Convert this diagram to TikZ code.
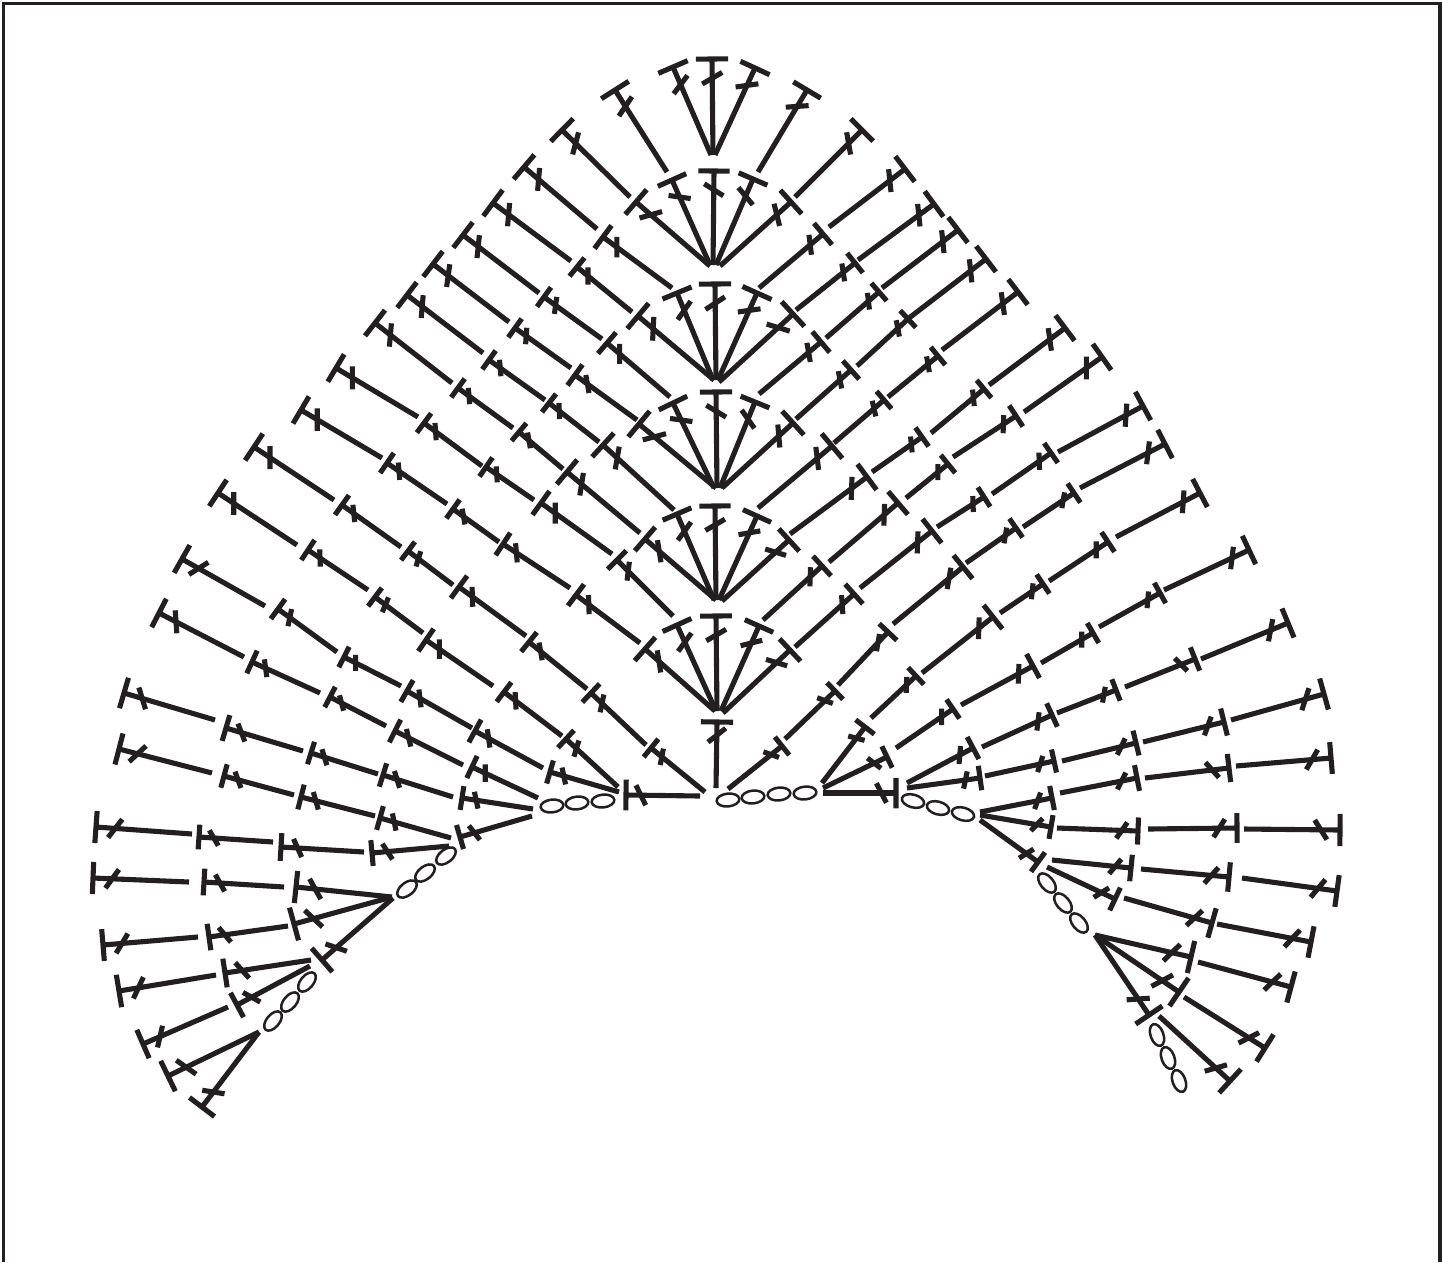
\documentclass[tikz,border=0pt]{standalone}
\usepackage{xcolor}
\usepackage{tikz}
\usetikzlibrary{calc}
\definecolor{YarnBlack}{HTML}{231F20}
\tikzset{
  yarn/.style={draw=YarnBlack, line width=5.1pt},
  chainloop/.style={draw=YarnBlack, line width=2.5pt},
  frameline/.style={draw=YarnBlack, line width=3.2pt}
}
% [size of bar and tick], top x, top y, end x, end y, tick angle
\newcommand{\stitch}[6][1]{
  \draw[yarn] (#2,#3) -- (#4,#5);
  \draw[yarn] let \p1=($(#4,#5)-(#2,#3)$), \n1={#1*max(0.167*veclen(\x1,\y1),11.5pt)},
      \n2={#1*max(0.12*veclen(\x1,\y1),8pt)}, \n3={max(0.2*veclen(\x1,\y1),13pt)} in
    ($(#2,#3)!\n1!90:(#4,#5)$) -- ($(#2,#3)!\n1!-90:(#4,#5)$)
    ($(#2,#3)!\n3!(#4,#5)$) ++(#6:\n2) -- ++(#6+180:2*\n2);
}
\begin{document}
\begin{tikzpicture}[x=1pt, y=-1pt]
  \useasboundingbox (0,0) rectangle (1442,1262);
  \draw[frameline] (3.5,1262) -- (3.5,3.5) -- (1440,3.5) -- (1440,1262);

  % Fans in the middle, top to bottom
  \foreach \tx/\ty/\ex/\ey/\ta in {
    712/59/713/155/30, 673/67/711/155/53, 755/68/715/155/8, 615/90/667/172/56, 807/90/758/172/4,
    714/171/713/265/-32, 672/180/710/265/-8, 753/179/716/265/-50, 636/202/710/266/16, 791/202/720/266/-76,
    715/284/716/380/33, 677/293/713/380/55, 757/293/718/380/8, 793/314/719/382/-17,
    716/392/717/488/-31, 673/403/714/488/-8, 755/402/720/488/-55, 639/424/716/488/15, 793/423/722/488/95,
    715/506/716/600/30, 677/514/714/600/54, 757/516/719/600/10, 789/540/722/601/-17, 645/539/716/600/99,
    716/616/717/711/30, 677/625/716/711/54, 759/626/721/711/14, 790/650/723/713/-17, 645/649/715/711/99}
    {\stitch{\tx}{\ty}{\ex}{\ey}{\ta}}
  \stitch[1.4]{717}{722}{716}{788}{38}
  \stitch[1.25]{626}{795}{700}{796}{-64}
  \stitch[1.25]{896}{793}{823}{793}{-63}

  % Rays on the upper left
  \foreach \tx/\ty/\ex/\ey/\ta in {
    562/130/630/197/75,
    524/167/597/229/85, 603/237/672/288/90,
    493/203/571/261/85, 577/267/632/312/90, 638/316/714/380/87,
    463/235/539/293/84, 544/297/602/339/82, 607/343/670/397/90,
    433/264/509/322/82, 515/328/571/368/86, 575/375/637/420/100,
    407/295/483/353/85, 489/360/545/400/95, 549/403/599/442/92, 603/445/674/510/80,
    375/323/452/383/85, 458/388/513/428/95, 519/432/563/469/100, 567/472/640/533/81,
    336/368/418/417/90, 424/423/482/466/94, 486/467/534/500/94, 541/503/612/554/90, 617/560/673/616/83,
    301/410/382/458/90, 387/463/447/504/95, 453/509/499/542/100, 503/544/570/588/95, 576/595/640/643/92,
    254/447/334/500/90, 342/505/401/547/96, 408/551/453/585/73, 459/587/526/636/92, 529/642/587/689/100, 591/693/646/745/78, 651/748/705/792/79,
    218/493/297/545/90, 308/550/368/590/92, 375/597/423/633/67, 426/640/493/686/90, 504/692/562/736/93, 566/739/618/787/73,
    182/559/265/606/32, 278/609/337/652/78, 344/657/401/686/90, 407/691/472/728/97, 475/731/543/768/98, 550/772/619/792/102,
    159/613/244/657/94, 252/662/320/693/98, 330/697/386/726/105, 395/731/463/765/104, 472/767/538/798/90}
    {\stitch{\tx}{\ty}{\ex}{\ey}{\ta}}

  % Rays on the lower left
  \foreach \tx/\ty/\ex/\ey/\ta in {
    124/693/215/720/107, 226/728/303/751/111, 311/753/378/774/107, 383/775/453/797/107, 462/798/533/809/102,
    119/749/212/773/43, 224/776/294/795/110, 301/797/375/816/106, 380/818/451/838/102, 460/837/532/816/128,
    96/827/192/834/52, 199/837/273/842/120, 281/847/364/852/114, 372/853/449/846/123,
    93/878/189/882/54, 204/882/284/887/119, 296/887/392/897/119,
    103/945/198/937/59, 209/937/288/926/130, 294/924/392/897/137,
    119/991/216/975/65, 225/973/311/960/132,
    143/1044/228/1007/77, 237/1005/310/966/151,
    168/1076/259/1032/145, 202/1107/259/1032/-9,
    322/960/393/898/-19}
    {\stitch{\tx}{\ty}{\ex}{\ey}{\ta}}

  % Rays on the upper right
  \foreach \tx/\ty/\ex/\ey/\ta in {
    862/130/795/197/100,
    905/169/829/227/96, 823/234/759/288/97,
    934/204/858/260/96, 855/263/796/310/99,
    958/230/882/288/96, 879/292/826/338/97, 821/342/759/394/100,
    986/259/909/318/96, 908/319/857/366/101, 851/370/796/419/101,
    1018/292/942/350/98, 938/356/888/397/100, 884/400/834/443/103, 832/446/758/508/97,
    1065/328/989/385/98, 984/389/931/433/96, 922/437/872/472/96, 867/477/790/534/88,
    1102/357/1024/412/90, 1016/416/953/457/88, 948/464/906/498/90, 898/503/829/562/88, 822/566/763/620/88,
    1143/406/1058/452/86, 1051/453/992/494/92, 984/497/937/527/92, 932/531/860/588/88, 854/594/795/647/94}
    {\stitch{\tx}{\ty}{\ex}{\ey}{\ta}}

  % Rays on the lower right
  \foreach \tx/\ty/\ex/\ey/\ta in {
    782/746/728/789/-20, 835/691/785/739/-20, 888/632/838/685/80, 963/567/893/624/80, 1016/528/966/563/80, 1074/493/1023/527/80, 1165/444/1080/488/83,
    865/727/822/783/-15, 916/676/871/718/88, 993/617/922/673/88, 1043/584/1000/613/84, 1108/542/1049/581/90, 1200/493/1116/537/86,
    887/757/823/788/-37, 953/709/896/748/90, 1033/666/961/705/88, 1093/633/1041/663/90, 1160/593/1099/627/85, 1249/550/1164/590/83,
    973/748/907/783/85, 1052/715/982/747/83, 1116/690/1057/713/80, 1195/659/1125/687/-45, 1288/623/1201/659/79,
    980/778/907/788/78, 1054/761/985/776/72, 1136/743/1062/761/64, 1224/722/1143/742/70, 1324/694/1231/720/72,
    1052/798/980/812/70, 1137/778/1060/793/63, 1229/768/1145/778/-48, 1331/758/1236/766/60,
    1051/827/980/815/46, 1138/831/1057/828/55, 1237/828/1148/829/58, 1340/830/1244/829/-58,
    1038/862/980/820/32, 1131/868/1052/860/50, 1229/877/1141/869/48, 1337/891/1242/878/50,
    1115/899/1047/867/32, 1212/923/1124/898/43, 1311/942/1217/924/47,
    1191/957/1095/935/44, 1291/987/1198/962/44,
    1179/992/1095/935/28, 1265/1048/1184/997/27,
    1149/1015/1095/935/4, 1230/1081/1159/1016/16}
    {\stitch{\tx}{\ty}{\ex}{\ey}{\ta}}

  % Chains
  \foreach \cx/\cy/\ca in {
    273/1021/50, 290/1002/50, 307/982/50,
    407/889/38, 425/873/38, 446/856/38,
    552/806/6, 577/803/6, 603/801/6,
    728/800/6, 753/797/6, 779/794/6, 805/793/6,
    913/801/-15, 938/808/-15, 963/814/-15,
    1047/883/-50, 1063/903/-50, 1079/923/-50,
    1157/1035/-70, 1168/1058/-70, 1179/1081/-70}
    {\draw[chainloop, rotate around={\ca:(\cx,\cy)}] (\cx,\cy) ellipse (11.4pt and 6.4pt);}
\end{tikzpicture}
\end{document}
